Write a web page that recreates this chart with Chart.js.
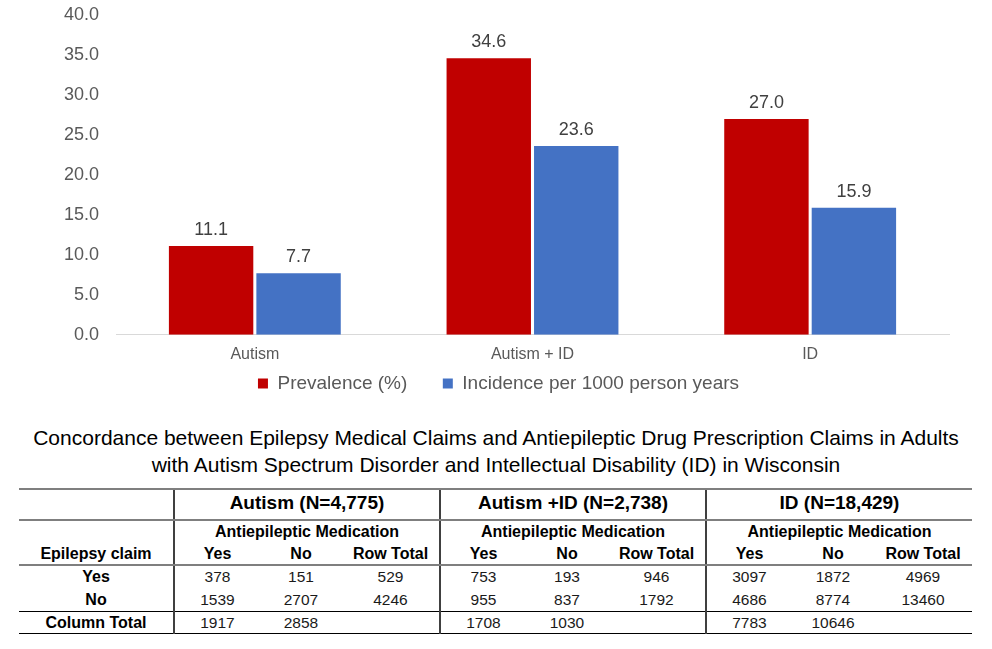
<!DOCTYPE html>
<html>
<head>
<meta charset="utf-8">
<script src="https://cdn.jsdelivr.net/npm/chart.js@4"></script>
<style>
  body { margin: 0; background: #fff; font-family: "Liberation Sans", Arial, sans-serif; }
  #wrap { position: relative; width: 992px; height: 649px; }
  #chartBox { position: absolute; left: 0; top: 0; width: 992px; height: 405px; }
  #title { position: absolute; left: 0; top: 424px; width: 992px; text-align: center;
           font-size: 21px; line-height: 27px; color: #000; }
  #tbl { position: absolute; left: 19px; top: 488px; border-collapse: collapse; table-layout: fixed; }
  #tbl td { padding: 0; text-align: center; color: #1a1a1a; font-size: 15.5px; white-space: nowrap; }
  #tbl .b { font-weight: bold; color: #000; font-size: 16px; }
  #tbl .h { font-weight: bold; color: #000; font-size: 19px; }
  #tbl .g { border-left: 2px solid #404040; }
  #tbl tr.r1 td { height: 25px; padding-bottom: 4px; border-top: 2px solid #7f7f7f; border-bottom: 2px solid #7f7f7f; }
  #tbl tr.r2 td { height: 22px; }
  #tbl tr.r3 td { height: 21px; border-bottom: 2px solid #7f7f7f; }
  #tbl tr.r4 td { height: 22px; }
  #tbl tr.r5 td { height: 23px; border-bottom: 1.5px solid #000; }
  #tbl tr.r6 td { height: 21px; border-bottom: 1.5px solid #000; }
</style>
</head>
<body>
<div id="wrap">
  <div id="chartBox"><canvas id="barChart"></canvas></div>
  <div id="title">Concordance between Epilepsy Medical Claims and Antiepileptic Drug Prescription Claims in Adults<br>with Autism Spectrum Disorder and Intellectual Disability (ID) in Wisconsin</div>
  <table id="tbl"></table>
</div>
<script>
// chart data
const categories = ['Autism', 'Autism + ID', 'ID'];
const prevalence = [11.1, 34.6, 27.0];
const incidence = [7.7, 23.6, 15.9];
const seriesNames = ['Prevalence (%)', 'Incidence per 1000 person years'];

// table data
const groupTitles = ['Autism (N=4,775)', 'Autism +ID (N=2,738)', 'ID (N=18,429)'];
const subHeaders = ['Yes', 'No', 'Row Total'];
const rowLabels = ['Yes', 'No', 'Column Total'];
const autismRows = [[378, 151, 529], [1539, 2707, 4246], [1917, 2858, '']];
const autismIdRows = [[753, 193, 946], [955, 837, 1792], [1708, 1030, '']];
const idRows = [[3097, 1872, 4969], [4686, 8774, 13460], [7783, 10646, '']];

const FONT = '"Liberation Sans", Arial, sans-serif';

// draws the value above every bar
const barValueLabels = {
    id: 'barValueLabels',
    afterDatasetsDraw(chart) {
        const ctx = chart.ctx;
        ctx.save();
        ctx.font = '18px ' + FONT;
        ctx.fillStyle = '#404040';
        ctx.textAlign = 'center';
        ctx.textBaseline = 'alphabetic';
        chart.data.datasets.forEach((ds, i) => {
            chart.getDatasetMeta(i).data.forEach((bar, j) => {
                ctx.fillText(ds.data[j].toFixed(1), bar.x, bar.y - 11);
            });
        });
        ctx.restore();
    }
};

const ctx = document.getElementById('barChart').getContext('2d');
new Chart(ctx, {
    type: 'bar',
    data: {
        labels: categories,
        datasets: [{
            label: seriesNames[0],
            data: prevalence,
            backgroundColor: '#C00000',
            categoryPercentage: 0.63,
            barPercentage: 0.965
        }, {
            label: seriesNames[1],
            data: incidence,
            backgroundColor: '#4472C4',
            categoryPercentage: 0.63,
            barPercentage: 0.965
        }]
    },
    options: {
        responsive: true,
        maintainAspectRatio: false,
        animation: false,
        layout: { padding: { left: 48, right: 43, top: 15, bottom: 2 } },
        scales: {
            x: {
                grid: { display: false, drawTicks: false },
                border: { display: true, color: '#d9d9d9', width: 1 },
                ticks: { color: '#595959', font: { family: FONT, size: 16 }, padding: 10 }
            },
            y: {
                min: 0,
                max: 40,
                // tickLength only pushes the labels away from the plot, no marks drawn
                grid: { display: false, drawTicks: true, tickLength: 14 },
                border: { display: false },
                ticks: {
                    stepSize: 5,
                    color: '#595959',
                    font: { family: FONT, size: 18 },
                    padding: 3,
                    callback: v => v.toFixed(1)
                },
                afterFit: scale => { scale.width = 68; }
            }
        },
        plugins: {
            legend: {
                position: 'bottom',
                labels: {
                    color: '#595959',
                    font: { family: FONT, size: 19 },
                    boxWidth: 10,
                    boxHeight: 10,
                    padding: 0,
                    // gap between the two entries comes from the spaces
                    generateLabels: chart => {
                        const items = Chart.defaults.plugins.legend.labels.generateLabels(chart);
                        items[0].text += '\u00a0\u00a0\u00a0\u00a0\u00a0\u00a0\u2009';
                        return items;
                    }
                }
            },
            tooltip: { enabled: false }
        }
    },
    plugins: [barValueLabels]
});

// build the concordance table
const tbl = document.getElementById('tbl');
const colWidths = [155, 86, 82, 98, 86, 82, 98, 86, 82, 98];
let html = '<colgroup>' + colWidths.map(w => `<col style="width:${w}px">`).join('') + '</colgroup>';
html += '<tr class="r1"><td></td>' + groupTitles.map(t => `<td class="h g" colspan="3">${t}</td>`).join('') + '</tr>';
html += '<tr class="r2"><td></td>' + groupTitles.map(() => '<td class="b g" colspan="3">Antiepileptic Medication</td>').join('') + '</tr>';
html += '<tr class="r3"><td class="b">Epilepsy claim</td>' +
    groupTitles.map(() => subHeaders.map((s, k) => `<td class="b${k === 0 ? ' g' : ''}">${s}</td>`).join('')).join('') + '</tr>';
const groups = [autismRows, autismIdRows, idRows];
rowLabels.forEach((lab, r) => {
    html += `<tr class="r${r + 4}"><td class="b">${lab}</td>` +
        groups.map(g => g[r].map((v, k) => `<td class="${k === 0 ? 'g' : ''}">${v}</td>`).join('')).join('') + '</tr>';
});
tbl.innerHTML = html;
</script>
</body>
</html>
